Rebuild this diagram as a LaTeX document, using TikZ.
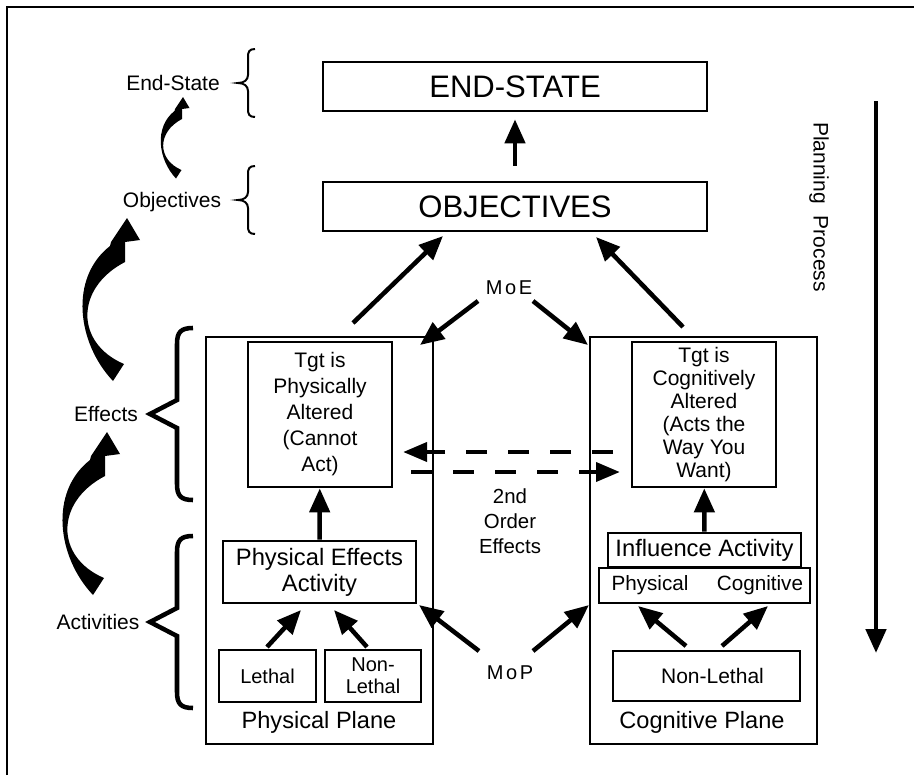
\documentclass[tikz,border=0pt]{standalone}
\usepackage{fontspec}
\setmainfont{Liberation Sans}
\usetikzlibrary{arrows.meta}

% font size helper: size and baseline skip
\newcommand{\fsz}[2]{\fontsize{#1}{#2}\selectfont}

\begin{document}
\begin{tikzpicture}[x=0.75pt,y=-0.75pt,
  box/.style={draw,line width=2pt,inner sep=0pt,align=center,
    minimum width=#1},
  plane/.style={draw,line width=1.5pt,inner sep=0pt,
    minimum width=170.25pt,minimum height=305.25pt},
  lbl/.style={inner sep=0pt,align=center},
  arr/.style={line width=3.4pt,-{Triangle[length=18pt,width=15pt]}},
  dasharr/.style={line width=3.5pt,dash pattern=on 15.75pt off 15.75pt,
    -{Triangle[length=18pt,width=14pt]}},
  fatarc/.pic={
    \fill (-14,163) .. controls (-50,125) and (-58,60) .. (-17,28)
      -- (-16,24) -- (0,0) -- (13,22) -- (-2,24) -- (-2,44)
      .. controls (-52,70) and (-52,125) .. (-3,146) -- cycle;},
  smallbrace/.pic={
    \draw[line width=1.5pt] (17,-34) .. controls (11,-34) and (10,-31) .. (10,-26)
      -- (10,-8) .. controls (10,-3) and (6,0) .. (0,0)
      .. controls (6,0) and (10,3) .. (10,8) -- (10,26)
      .. controls (10,31) and (11,34) .. (17,34);},
  bigbrace/.pic={
    \draw[line width=3.4pt,line join=miter] (43,-86) .. controls (31,-86) and (27,-82) .. (27,-70)
      -- (27,-14) -- (0,0) -- (27,14) -- (27,70)
      .. controls (27,82) and (31,86) .. (43,86);}
]
\useasboundingbox (0,0) rectangle (914,775);

% frame
\draw[line width=1.8pt] (7,775) -- (7,7) -- (914,7);

% top goals
\node[box=288pt,minimum height=36.75pt,font=\fsz{23.3pt}{28pt}] (endstate) at (515,86.5) {END-STATE};
\node[box=288pt,minimum height=36.75pt,font=\fsz{23.3pt}{28pt}] (objectives) at (515,206.5) {OBJECTIVES};

% the two planes
\node[plane] (pplane) at (319.5,540.5) {};
\node[plane] (cplane) at (703.5,540.5) {};
\node[lbl,font=\fsz{17.7pt}{20pt}] (pplabel) at (319,722) {Physical Plane};
\node[lbl,font=\fsz{17.7pt}{20pt}] (cplabel) at (702,722) {Cognitive Plane};

% physical plane contents
\node[box=108pt,minimum height=108.75pt,font=\fsz{15.75pt}{19.5pt}] (tgtp) at (320,414.5)
  {Tgt is\\Physically\\Altered\\(Cannot\\Act)};
\node[box=144.75pt,minimum height=46.5pt,font=\fsz{17.8pt}{19.5pt}] (pea) at (319.5,572)
  {Physical Effects\\Activity};
\node[box=72.75pt,minimum height=39pt,font=\fsz{15pt}{16.5pt}] (lethal) at (267.5,676) {Lethal};
\node[box=72pt,minimum height=39pt,font=\fsz{15pt}{16.5pt}] (nonlethal) at (373,676) {Non-\\Lethal};

% cognitive plane contents
\node[box=108pt,minimum height=108.75pt,font=\fsz{15.75pt}{17.25pt}] (tgtc) at (704,414.5)
  {Tgt is\\Cognitively\\Altered\\(Acts the\\Way You\\Want)};
\node[box=144.75pt,minimum height=25.5pt,font=\fsz{17.8pt}{20pt}] (infl) at (704.5,550) {Influence Activity};
\node[box=158.25pt,minimum height=26.25pt] (physcog) at (704.5,585.5) {};
\node[lbl,font=\fsz{15.5pt}{18pt}] (physl) at (650,585) {Physical};
\node[lbl,font=\fsz{15.5pt}{18pt}] (cogl) at (760,585) {Cognitive};
\node[box=140.25pt,minimum height=37.5pt,font=\fsz{15.75pt}{18pt}] (nlc) at (706.5,676) {\hspace*{9pt}Non-Lethal};

% middle labels
\node[lbl,font=\fsz{15pt}{18pt}] (moe) at (509,288) {M\kern2pt o\kern2pt E};
\node[lbl,font=\fsz{15pt}{18pt}] (mop) at (510,673) {M\kern2pt o\kern2pt P};
\node[lbl,font=\fsz{15.3pt}{18.75pt}] (order2) at (510,521) {2nd\\Order\\Effects};

% planning process
\node[lbl,font=\fsz{15.75pt}{18pt},rotate=-90] (plan) at (819,207) {Planning\hspace{9pt}Process};

% left-hand level labels
\node[lbl,font=\fsz{15.75pt}{18pt}] (lend) at (173,83) {End-State};
\node[lbl,font=\fsz{15.75pt}{18pt}] (lobj) at (172,202) {Objectives};
\node[lbl,font=\fsz{15.75pt}{18pt}] (leff) at (106,414) {Effects};
\node[lbl,font=\fsz{15.75pt}{18pt}] (lact) at (98,622) {Activities};

% braces
\pic at (238,83) {smallbrace};
\pic at (238,200) {smallbrace};
\pic at (150,414) {bigbrace};
\pic at (150,622) {bigbrace};

% curved level arrows
\pic[scale=0.5] at (183,97) {fatarc};
\pic at (127,218) {fatarc};
\pic at (107,432) {fatarc};

% connector end points
\coordinate (ppOut) at (353,323);  \coordinate (objL) at (443,236);
\coordinate (cpOut) at (683,327);  \coordinate (objR) at (596,237);
\coordinate (moeL) at (478,301);   \coordinate (ppIn) at (420,345);
\coordinate (moeR) at (533,301);   \coordinate (cpIn) at (588,345);
\coordinate (mopL) at (479,651);   \coordinate (peaIn) at (419,605);
\coordinate (mopR) at (533,651);   \coordinate (cpLow) at (589,605);
\coordinate (letOut) at (267,647); \coordinate (peaL) at (301,610);
\coordinate (nlOut) at (367,647);  \coordinate (peaR) at (334,610);
\coordinate (nlcL) at (686,646);   \coordinate (pcL) at (638,606);
\coordinate (nlcR) at (722,646);   \coordinate (pcR) at (768,606);
\coordinate (dTopS) at (613,452);  \coordinate (dTopE) at (403,452);
\coordinate (dBotS) at (411,472);  \coordinate (dBotE) at (620,472);
\coordinate (planTop) at (876,101); \coordinate (planBot) at (876,653);

% connectors
\draw[arr,shorten <=11.25pt,shorten >=5.25pt] (objectives.north) -- (endstate.south);
\draw[arr] (ppOut) -- (objL);
\draw[arr] (cpOut) -- (objR);
\draw[arr] (moeL) -- (ppIn);
\draw[arr] (moeR) -- (cpIn);
\draw[arr] (mopL) -- (peaIn);
\draw[arr] (mopR) -- (cpLow);
\draw[arr] (pea) -- (tgtp);
\draw[arr] (letOut) -- (peaL);
\draw[arr] (nlOut) -- (peaR);
\draw[arr] (infl) -- (tgtc);
\draw[arr] (nlcL) -- (pcL);
\draw[arr] (nlcR) -- (pcR);
\draw[dasharr] (dTopS) -- (dTopE);
\draw[dasharr] (dBotS) -- (dBotE);
\draw[arr,line width=3.6pt] (planTop) -- (planBot);
\end{tikzpicture}
\end{document}
